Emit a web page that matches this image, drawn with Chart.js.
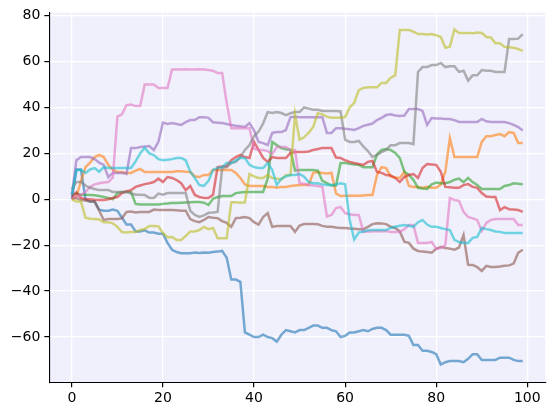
<!DOCTYPE html>
<html>
<head>
<meta charset="utf-8">
<script src="https://cdn.jsdelivr.net/npm/chart.js@4/dist/chart.umd.min.js"></script>
<style>
  html, body { margin: 0; padding: 0; background: #ffffff; }
  canvas { display: block; }
</style>
</head>
<body>
<canvas id="c" width="554" height="416"></canvas>
<script>
// x positions: step index of each random walk
const steps = Array.from({ length: 100 }, (_, i) => i);

const xTicks = [0, 20, 40, 60, 80, 100];
const yTicks = [-60, -40, -20, 0, 20, 40, 60, 80];

const seriesBlue = [0, 13, 13, 0, -1, -1, -4.5, -5, -5, -4.5,
  -5, -8, -11, -11, -14, -14, -13.5, -14.5, -14.5, -15,
  -15, -19, -22, -23, -23.5, -23.5, -23.5, -23.2, -23.4, -23.2,
  -23.3, -23, -22.8, -22.5, -25.5, -35, -35, -36, -58, -59,
  -60, -60, -59, -60, -60.5, -62, -59, -57, -57.5, -58,
  -57, -57, -56, -55, -55, -56, -56, -57, -57.5, -60,
  -59.5, -58, -58, -57.5, -57, -57.5, -56.5, -56, -56, -57,
  -59, -59, -59, -59, -59.5, -63.5, -63.5, -66, -66, -66.5,
  -67.5, -72, -71, -70.5, -70.5, -70.5, -71, -69.5, -67.5, -67.5,
  -70, -70, -70, -70, -69, -69, -69, -70, -70.5, -70.5];

const seriesOrange = [0, 1, 8, 14, 16, 18.4, 19.3, 18.4, 15, 12.8,
  11.9, 11.9, 11.5, 11.5, 12.5, 13.2, 11.9, 11.9, 11.9, 11.9,
  11.9, 11.9, 11.9, 12.2, 12.2, 12, 11.9, 10, 9.7, 10.6,
  10.6, 12.8, 12.8, 12.8, 12.8, 12.8, 11.5, 9.3, 6.5, 5.8,
  5.8, 5.8, 5.8, 5.4, 5.4, 5, 5.4, 5.4, 5.8, 6,
  6.2, 6.2, 6.2, 11.5, 11.9, 11.5, 11.2, 11.5, 2.5, 1.4,
  1.5, 1.5, 1.5, 1.5, 1.7, 1.9, 1.9, 10.6, 14, 13.6,
  10, 9.5, 9.3, 11.9, 5.8, 5.4, 5.4, 5, 5.4, 5,
  5, 6.5, 12, 26.7, 18.4, 18.4, 18.4, 18.4, 18.4, 18.4,
  25, 27.5, 27.5, 28, 28.4, 27.5, 29.3, 28.9, 24.5, 24.5];

const seriesGreen = [2, 2.5, 2, 2, 1.9, 1.8, 1.4, 1, 0.6, 0,
  2.7, 3.2, 3.2, 3.2, -2, -2.3, -2.3, -2.3, -2.3, -2.3,
  -2, -1.8, -1.6, -1.6, -1.5, -1.4, -1.3, -1.2, -1.2, -1.5,
  -2.5, 0.2, 1, 1.4, 1.4, 1.4, 2.7, 3, 3.2, 3.2,
  3.2, 3.2, 3.2, 9, 25, 23.6, 22.3, 21.8, 21.5, 12.5,
  12.8, 12.8, 12.8, 12.8, 12.5, 8, 7, 6, 6, 15.8,
  15.8, 15.5, 15.2, 15, 14, 14, 14, 19.5, 21.5, 21.9,
  21.5, 20.2, 18, 12, 10.6, 8.5, 5, 4.7, 4.5, 6.5,
  7.3, 7, 7, 7.5, 8.5, 9, 7.5, 9.3, 7.5, 6.2,
  4.5, 4.5, 4.5, 4.5, 4.5, 5.8, 6.2, 7, 6.8, 6.6];

const seriesRed = [1, 3, 0.6, 0, 0, -0.2, -0.3, -0.3, 0, 0.6,
  1, 2.7, 3.5, 4, 5.4, 6, 6.6, 7, 7.5, 9,
  7.5, 9.7, 9.3, 8.4, 7, 4, 5.8, 1.9, 1, 0.6,
  0.6, 2, 14, 14.3, 14.5, 17, 18.4, 19.3, 18.4, 18,
  25, 21.5, 18, 16.3, 18.4, 18, 18, 18, 20.2, 20.6,
  20.6, 20.6, 20.8, 21.5, 21.9, 22.3, 22.3, 22.3, 18.2, 18,
  17, 16.3, 15.8, 15.4, 15, 16.3, 16.7, 11.9, 11.5, 10.6,
  10.4, 9.3, 7.5, 9.7, 10.6, 11, 9.3, 13.6, 15.4, 15.2,
  15, 12, 5.4, 5.2, 5, 5, 6.2, 6.6, 5.4, 5,
  2.7, 1.2, 1, 1, -4.7, -3.4, -4.3, -4.5, -4.7, -5.5];

const seriesPurple = [2, 17, 18.4, 18.4, 18.4, 17.5, 16, 15, 9.7, 11.5,
  11.5, 11.5, 11, 22.3, 22.3, 22.8, 23, 23.2, 21.5, 25,
  33.4, 32.8, 33.2, 32.8, 32.4, 33.6, 34.5, 34.5, 35.8, 35.8,
  35.5, 33.6, 33.4, 33.2, 32.8, 32.4, 32, 31.8, 31.5, 33.2,
  30, 25, 24.5, 23.6, 28.9, 29.3, 29.3, 30.2, 35.8, 36,
  35.8, 35.8, 35.8, 35.8, 35.8, 35.8, 28.9, 28.9, 31, 31,
  30.7, 30.5, 30.2, 31, 32, 32.5, 33, 34.5, 35.5, 36.7,
  37, 36.5, 36.3, 36.5, 39.3, 39.3, 39.3, 38.5, 32.4, 35.4,
  35.2, 35.2, 35, 35, 34.5, 33.7, 33.7, 33.7, 33.7, 33.7,
  35, 34, 33.7, 33.7, 33.7, 33.7, 33.2, 32.4, 31.5, 30];

const seriesBrown = [0.5, 0.5, -0.3, -0.5, -1, -1, -5, -9, -8.6, -8.6,
  -8.6, -8.3, -5.5, -5.3, -5.7, -5.5, -5.5, -5.5, -4.5, -4.7,
  -4.7, -4.7, -4.7, -4.8, -5, -5, -8.6, -9.5, -10, -9,
  -7.7, -8, -8.2, -9.5, -10.3, -12, -8.2, -8, -7.7, -8.2,
  -10, -11, -7.7, -6, -12, -11.6, -11.6, -11.6, -11.6, -14.2,
  -11.4, -10.8, -10.8, -10.8, -10.9, -11.6, -12, -12, -12.3, -12.5,
  -12.5, -12.7, -12.8, -13, -13, -12, -10.8, -10.4, -10.5, -10.8,
  -12, -12.5, -14, -18.5, -19, -21.5, -22.5, -22.8, -23, -23.3,
  -21.6, -20.7, -21.2, -21.5, -22, -21, -15.6, -28.5, -28.6, -29.5,
  -31.2, -29, -29.5, -29.5, -29.3, -29, -28.8, -28, -23.3, -22];

const seriesPink = [0, 1.5, 2, 3.2, 5.4, 6.5, 7, 7.3, 7.5, 9.5,
  36, 37, 41, 41.3, 40.6, 40.6, 50, 50, 50, 48.5,
  48.5, 48.5, 56.5, 56.5, 56.6, 56.7, 56.5, 56.5, 56.7, 56.5,
  56.3, 56, 55, 55, 42, 31, 31, 31, 31, 31,
  22, 21.5, 21.5, 21, 19.7, 22.8, 22.8, 22.8, 21.5, 21.5,
  7, 6.8, 6.2, 6, 5.8, 5.4, -7.5, -6.8, -3.8, -3.4,
  -6, -6.5, -6.8, -6.8, -14.2, -14, -14, -13.8, -14, -13.8,
  -14.2, -14.2, -14.2, -13, -11.2, -11.2, -19, -19, -19, -18.6,
  -21.5, -21.2, -20, 0.5, -0.3, -0.7, -5.5, -7.7, -8.3, -9,
  -13.8, -10.3, -9, -8.6, -8.6, -8.6, -8.6, -8.6, -11.2, -11.2];

const seriesGray = [4.5, 7.5, 7.5, 6, 5, 4.5, 4, 4, 4, 3.2,
  3.2, 3.2, 3.2, 2.5, 2, 2, 1.9, 0.6, 0.6, 2.5,
  2, 2.7, 2.7, 2.7, 2.7, 2.7, -5, -6.8, -7.7, -7,
  -5.9, -5.8, -5.5, 13.6, 14, 15.8, 16.3, 18.4, 21.5, 23.6,
  27.5, 29.5, 33, 38, 37.6, 38, 37.6, 36.7, 37.5, 38,
  38, 40, 39.5, 39, 39, 38.5, 38.5, 38.5, 38.5, 38.3,
  26, 25, 25, 25.4, 23, 21, 18.4, 19.3, 20.5, 21.5,
  23.6, 23.6, 24.5, 24.5, 24.5, 24, 55.5, 57.6, 57.6, 58.5,
  58.5, 59.4, 57.6, 58, 58, 55.5, 56, 51.7, 54, 54,
  56.3, 56, 56, 55.5, 55.5, 55.5, 69.8, 69.8, 70, 72];

const seriesOlive = [0, -1, -1, -8, -8.5, -8.6, -8.8, -10, -10, -10.5,
  -12, -14.3, -14.5, -14.3, -14.3, -13.4, -13, -11.6, -11.6, -11.8,
  -14.7, -16.5, -16.4, -17.7, -17.7, -16, -14, -14, -13.4, -12,
  -13, -12.5, -17, -17, -17, -1.3, -1.3, -1.5, -1.3, 11,
  10, 9.3, 9.3, 10.6, 9.3, 9, 8.6, 10.6, 10.6, 37,
  26, 27, 29, 31.5, 37.5, 37, 36, 35.5, 35.5, 35.5,
  35.8, 40, 42, 47.6, 48.5, 48.8, 48.8, 48.8, 50.7, 50.7,
  53, 54, 73.8, 73.8, 73.8, 73, 72, 72, 71.8, 72,
  71.5, 70.7, 66, 66.5, 74, 72.5, 72.5, 72.5, 72.3, 72.7,
  72.5, 70.7, 70.5, 68, 68, 66.4, 66.2, 66, 65.5, 64.7];

const seriesCyan = [2, 12.8, 12.8, 11.5, 13, 13.6, 12, 14, 13.6, 13.6,
  13.6, 13.6, 13.6, 13.6, 16.5, 20, 22.5, 20, 19.3, 17.5,
  17, 17.2, 17.5, 18, 18, 17, 12, 9.3, 6.2, 5.8,
  8, 12.8, 13.6, 14, 15.8, 15.8, 17, 18, 18, 15,
  14, 13.6, 13.6, 15.8, 12.8, 6.2, 9, 10, 10.6, 10.6,
  11, 9.8, 7.5, 7, 7, 6.5, 6.2, 6.2, 6.5, 7,
  6.5, -9, -17.5, -14.5, -14, -13.5, -13.4, -13.4, -13.4, -13.4,
  -12.5, -12, -11.5, -11.2, -11.5, -12, -10, -9, -11, -12,
  -12, -12.5, -13, -13.4, -17.7, -18.6, -19, -19, -16.8, -16.4,
  -12.5, -13, -13.4, -14, -14.2, -14.7, -14.7, -14.7, -14.7, -14.7];

const allSeries = [seriesBlue, seriesOrange, seriesGreen, seriesRed, seriesPurple,
  seriesBrown, seriesPink, seriesGray, seriesOlive, seriesCyan];
const colors = ['rgba(31,119,180,0.6)', 'rgba(255,127,14,0.6)', 'rgba(44,160,44,0.6)',
  'rgba(214,39,40,0.6)', 'rgba(148,103,189,0.6)', 'rgba(140,86,75,0.6)',
  'rgba(227,119,194,0.6)', 'rgba(127,127,127,0.6)', 'rgba(188,189,34,0.6)',
  'rgba(23,190,207,0.6)'];

const bgPlugin = {
  id: 'bg',
  beforeDraw(chart) {
    const { ctx, chartArea: a } = chart;
    ctx.save();
    ctx.fillStyle = '#ffffff';
    ctx.fillRect(0, 0, chart.width, chart.height);
    ctx.fillStyle = '#f0f0fc';
    ctx.fillRect(a.left, a.top, a.right - a.left, a.bottom - a.top);
    ctx.restore();
  }
};

const fmt = v => (v < 0 ? '\u2212' + Math.abs(v) : String(v));
const tickFont = { family: 'DejaVu Sans', size: 14 };

new Chart(document.getElementById('c'), {
  type: 'line',
  data: {
    labels: steps,
    datasets: allSeries.map((s, i) => ({
      data: s,
      borderColor: colors[i],
      borderWidth: 2.5,
      pointRadius: 0,
      tension: 0,
      fill: false,
      order: 9 - i
    }))
  },
  options: {
    responsive: false,
    animation: false,
    devicePixelRatio: 1,
    layout: { padding: { left: 0, right: 8.7, top: 12.7, bottom: 0 } },
    plugins: { legend: { display: false }, tooltip: { enabled: false } },
    scales: {
      x: {
        type: 'linear',
        min: -4.95,
        max: 103.95,
        afterBuildTicks: s => { s.ticks = xTicks.map(v => ({ value: v })); },
        afterFit: s => { s.height = 33.7; },
        grid: { color: '#ffffff', lineWidth: 1.2, tickColor: '#000000', tickLength: 5, drawTicks: true },
        border: { display: true, color: '#000000', width: 1.1 },
        ticks: { color: '#000000', font: tickFont, padding: 3, maxRotation: 0, autoSkip: false, callback: fmt }
      },
      y: {
        type: 'linear',
        min: -79.74,
        max: 81.3,
        afterBuildTicks: s => { s.ticks = yTicks.map(v => ({ value: v })); },
        afterFit: s => { s.width = 49.3; },
        grid: { color: '#ffffff', lineWidth: 1.2, tickColor: '#000000', tickLength: 5, drawTicks: true },
        border: { display: true, color: '#000000', width: 1.1 },
        ticks: { color: '#000000', font: tickFont, padding: 4, autoSkip: false, callback: fmt }
      }
    }
  },
  plugins: [bgPlugin]
});
</script>
</body>
</html>
